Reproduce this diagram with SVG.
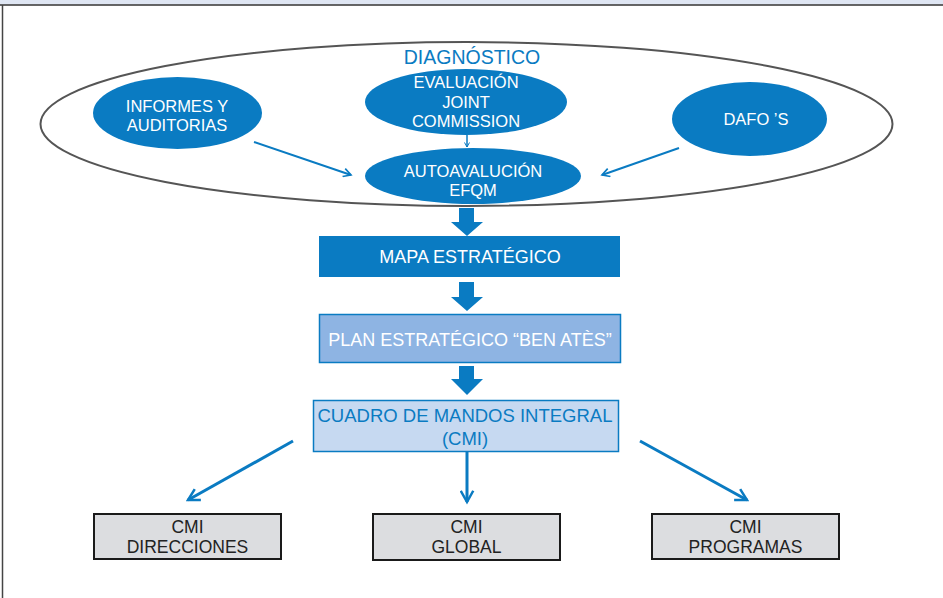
<svg xmlns="http://www.w3.org/2000/svg" width="943" height="598" viewBox="0 0 943 598">
  <style>
    .lbl { font-family: "Liberation Sans", Arial, sans-serif; text-anchor: middle; }
    .w { fill: #ffffff; }
    .b { fill: #0a7bc2; }
    .k { fill: #222222; }
    .oval { fill: #0a7bc2; }
    .thin { stroke: #0a7bc2; stroke-width: 2; fill: none; }
    .thick { stroke: #0a7bc2; stroke-width: 3; fill: none; }
    .block { fill: #0a7bc2; }
    .cmi { fill: #dcdde0; stroke: #1a1a1a; stroke-width: 2; }
  </style>
  <defs>
    <marker id="open" viewBox="0 0 12 12" refX="10" refY="6" markerWidth="5" markerHeight="5" orient="auto" markerUnits="strokeWidth">
      <path d="M1,1 L10,6 L1,11" fill="none" stroke="#0a7bc2" stroke-width="2"/>
    </marker>
    <marker id="openS" viewBox="0 0 12 12" refX="10" refY="6" markerWidth="4" markerHeight="4" orient="auto" markerUnits="strokeWidth">
      <path d="M1,1 L10,6 L1,11" fill="none" stroke="#0a7bc2" stroke-width="2"/>
    </marker>
  </defs>

  <!-- frame -->
  <rect x="0" y="0" width="943" height="4.5" fill="#dfe6f3"/>
  <line x1="0" y1="5" x2="943" y2="5" stroke="#333333" stroke-width="1.5"/>
  <line x1="2.5" y1="5" x2="2.5" y2="598" stroke="#444444" stroke-width="1.5"/>

  <!-- diagnosis group -->
  <g id="diagnostico">
    <ellipse cx="466.5" cy="124" rx="426" ry="82" fill="none" stroke="#555555" stroke-width="2"/>
    <text class="lbl b" x="472" y="64" font-size="19.5">DIAGNÓSTICO</text>
  </g>

  <g id="informes">
    <ellipse class="oval" cx="177.5" cy="113" rx="84.5" ry="36"/>
    <text class="lbl w" x="177" y="112" font-size="16.5">INFORMES Y</text>
    <text class="lbl w" x="177" y="131" font-size="16.5">AUDITORIAS</text>
  </g>

  <g id="evaluacion">
    <ellipse class="oval" cx="466" cy="102" rx="101" ry="33"/>
    <text class="lbl w" x="466" y="88" font-size="16.5">EVALUACIÓN</text>
    <text class="lbl w" x="466" y="108" font-size="16.5">JOINT</text>
    <text class="lbl w" x="466" y="127" font-size="16.5">COMMISSION</text>
  </g>

  <g id="autoavaluacion">
    <ellipse class="oval" cx="473" cy="176" rx="108" ry="28"/>
    <text class="lbl w" x="473" y="177" font-size="16.5">AUTOAVALUCIÓN</text>
    <text class="lbl w" x="473" y="196" font-size="16.5">EFQM</text>
  </g>

  <g id="dafo">
    <ellipse class="oval" cx="749.5" cy="119" rx="77.5" ry="37"/>
    <text class="lbl w" x="756" y="125" font-size="16.5">DAFO ’S</text>
  </g>

  <g id="mapa">
    <rect x="319" y="236" width="301" height="41" fill="#0a7bc2"/>
    <text class="lbl w" x="470" y="263" font-size="18">MAPA ESTRATÉGICO</text>
  </g>

  <g id="plan">
    <rect x="319.5" y="314.5" width="301" height="48" fill="#8eb4e3" stroke="#0a7bc2" stroke-width="1.5"/>
    <text class="lbl w" x="470" y="346" font-size="18">PLAN ESTRATÉGICO “BEN ATÈS”</text>
  </g>

  <g id="cuadro">
    <rect x="313.5" y="400.5" width="305" height="51" fill="#c6d9f1" stroke="#0a7bc2" stroke-width="1.5"/>
    <text class="lbl b" x="465" y="422" font-size="18.5">CUADRO DE MANDOS INTEGRAL</text>
    <text class="lbl b" x="465" y="445" font-size="18.5">(CMI)</text>
  </g>

  <g id="cmi-direcciones">
    <rect class="cmi" x="94" y="514" width="187" height="45"/>
    <text class="lbl k" x="187.5" y="533" font-size="17.5">CMI</text>
    <text class="lbl k" x="187.5" y="553" font-size="17.5">DIRECCIONES</text>
  </g>

  <g id="cmi-global">
    <rect class="cmi" x="373" y="514" width="187" height="46"/>
    <text class="lbl k" x="466.5" y="533" font-size="17.5">CMI</text>
    <text class="lbl k" x="466.5" y="553" font-size="17.5">GLOBAL</text>
  </g>

  <g id="cmi-programas">
    <rect class="cmi" x="652" y="514" width="187" height="45"/>
    <text class="lbl k" x="745.5" y="533" font-size="17.5">CMI</text>
    <text class="lbl k" x="745.5" y="553" font-size="17.5">PROGRAMAS</text>
  </g>

  <!-- connectors -->
  <g id="connectors">
    <line class="thin" x1="254" y1="142" x2="351" y2="175" marker-end="url(#open)"/>
    <line class="thin" x1="679" y1="148" x2="602" y2="175" marker-end="url(#open)"/>
    <line x1="467" y1="135" x2="467" y2="147" stroke="#0a7bc2" stroke-width="1.5" marker-end="url(#openS)"/>

    <path class="block" d="M459,208 H474 V222 H483 L467,236 L451,222 H459 Z"/>
    <path class="block" d="M459,282 H474 V297 H483 L467,311 L451,297 H459 Z"/>
    <path class="block" d="M459,366 H474 V379 H483 L467,395 L451,379 H459 Z"/>

    <line class="thick" x1="293" y1="441" x2="188" y2="500" marker-end="url(#open)"/>
    <line class="thick" x1="467" y1="452" x2="467" y2="502" marker-end="url(#open)"/>
    <line class="thick" x1="640" y1="441" x2="747" y2="500" marker-end="url(#open)"/>
  </g>
</svg>
